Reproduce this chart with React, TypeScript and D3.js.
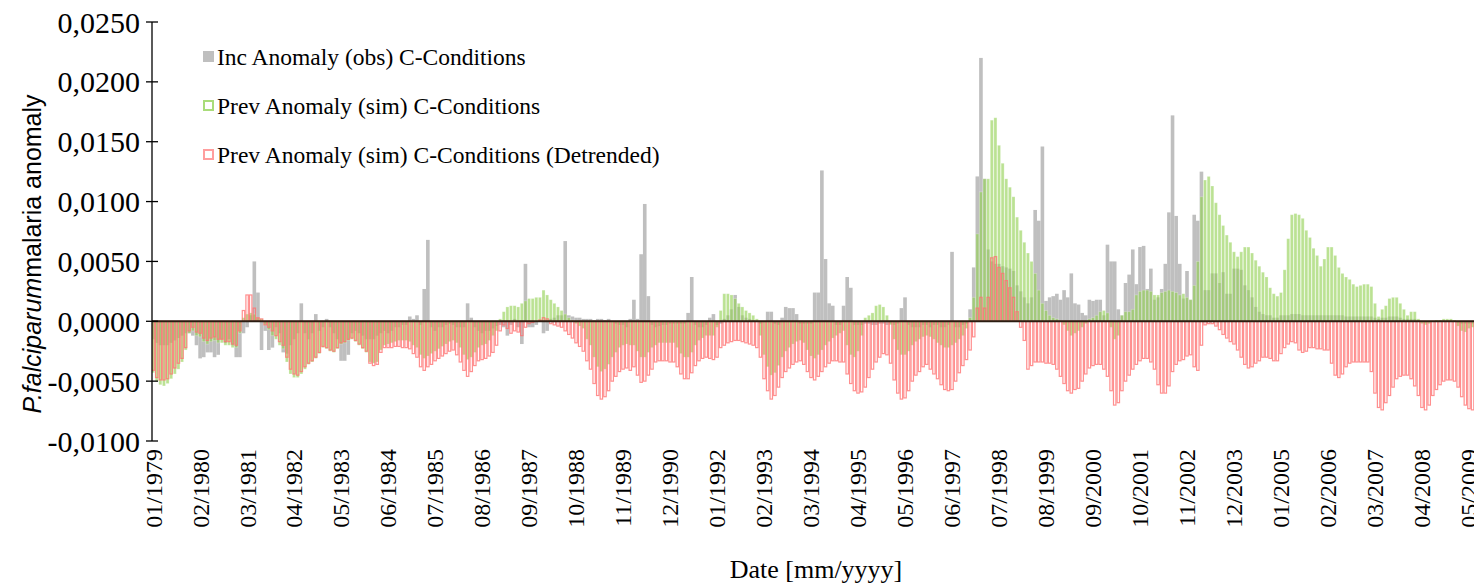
import React from 'react';
import * as d3 from 'd3';

// Monthly anomalies from 01/1979, in units of 0.0001 (one row per year).
const incObs = [
  -15, -18, -20, -20, -20, -18, -16, -14, -12, -10, -10, -12,
  -20, -31, -30, -26, -26, -30, -28, -15, -18, -15, -20, -30,
  -30, -10, -5, 5, 50, 24, -24, -8, -24, -22, -5, -10,
  -26, -27, -20, -15, -10, 15, -10, -15, -10, 6, -8, -5,
  2, -5, -10, -15, -33, -33, -28, -10, -8, -10, -12, -15,
  -15, -15, -12, -10, -8, -10, -8, -5, -5, -3, -3, 4,
  2, 5, -3, 27, 68, -5, -8, -5, -5, -3, -2, -3,
  -5, -5, -5, 15, 3, -5, -8, -10, -8, -8, -6, -4,
  -3, -5, -12, -3, 2, -5, -19, 48, -5, -5, -3, 0,
  -10, -8, 2, 3, 5, 5, 67, 5, 4, 3, 3, 2,
  2, 2, 1, 2, 2, 1, 2, 0, -2, -3, -3, -5,
  2, 18, 2, 56, 98, 21, -3, -5, -4, -3, -3, -2,
  -2, -2, -2, -2, 7, 37, -3, -5, -5, -3, 3, 6,
  -3, -2, 2, 5, 10, 22, 12, 5, 3, 2, 1, 0,
  -2, 0, 8, 8, -2, -3, 3, 12, 11, 11, 6, -2,
  -2, -2, -2, 24, 24, 126, 52, 15, 13, -3, -3, 13,
  37, 28, -3, -3, -3, -2, -2, -3, -3, -2, -2, -3,
  -2, -3, -2, 11, 20, -3, -5, -5, -5, -3, -3, -5,
  -3, -3, -5, -5, -3, 58, -5, -5, -3, -2, 10, 45,
  121, 220, 119, 60, 50, 48, 48, 46, 45, 44, 42, 30,
  25, 20, 15, 20, 93, 84, 146, 17, 20, 21, 23, 18,
  26, 20, 40, 15, 14, 7, 5, 18, 17, 18, 18, 5,
  64, 50, 50, 10, 5, 32, 39, 60, 31, 62, 63, 27,
  44, 18, 20, 27, 48, 91, 172, 88, 48, 19, 42, 18,
  89, 84, 125, 26, 26, 40, 40, 32, 41, 23, 23, 44,
  44, 43, 30, 26, 20, 12, 8, 6, 5, 5, 3, 3,
  5, 5, 5, 6, 6, 6, 5, 5, 5, 5, 5, 5,
  5, 5, 5, 5, 5, 5, 4, 4, 4, 4, 4, 4,
  4, 4, 3, 2, 3, 3, 4, 4, 4, 3, 2, 2,
  2, 2, 1, 0, -1, 0, 0, 0, 0, 0, 0, 0,
  0, -1, -2, -2, -2, -2,
];

const prevSim = [
  -43, -50, -53, -54, -52, -48, -44, -40, -34, -24, -10, -8,
  -12, -13, -17, -19, -17, -16, -18, -18, -20, -20, -22, -22,
  -10, 3, 6, 7, 6, 3, 2, -3, -7, -12, -15, -20,
  -23, -34, -44, -47, -47, -44, -40, -36, -34, -31, -27, -22,
  -23, -25, -26, -23, -19, -18, -16, -15, -17, -20, -23, -26,
  -34, -35, -34, -24, -20, -19, -18, -17, -16, -16, -16, -17,
  -20, -22, -28, -31, -29, -27, -25, -23, -21, -19, -17, -16,
  -18, -22, -28, -32, -30, -26, -22, -20, -19, -16, -12, -8,
  2, 8, 12, 13, 13, 12, 15, 17, 19, 19, 20, 20,
  26, 22, 18, 15, 12, 9, 6, 3, 1, -2, -4, -6,
  -15, -20, -30, -38, -42, -40, -36, -30, -26, -22, -20, -19,
  -20, -20, -25, -30, -30, -26, -22, -20, -18, -18, -18, -18,
  -18, -22, -27, -30, -30, -26, -20, -16, -14, -12, -12, -12,
  -5, 9, 23, 23, 22, 19, 15, 12, 9, 7, 5, 2,
  -12, -28, -38, -45, -43, -37, -30, -25, -22, -19, -17, -16,
  -18, -24, -29, -31, -28, -24, -20, -17, -14, -12, -10, -8,
  -20, -28, -30, -25, -12, 3, 5, 7, 13, 14, 12, 5,
  -3, -15, -24, -28, -28, -25, -20, -17, -15, -13, -12, -13,
  -15, -18, -20, -22, -22, -20, -18, -15, -12, -6, 3, 20,
  73, 108, 119, 119, 168, 170, 147, 132, 119, 112, 104, 87,
  76, 66, 57, 50, 40, 26, 15, 9, 5, 3, 2, 0,
  -3, -8, -12, -10, -8, -5, -2, 2, 3, 5, 8, 9,
  7, -5, -15, -12, 5, 8, 8, 10, 22, 25, 26, 26,
  25, 22, 22, 24, 25, 26, 25, 24, 22, 23, 20, 18,
  30, 50, 104, 118, 121, 113, 99, 89, 80, 72, 66, 58,
  54, 58, 62, 62, 57, 51, 46, 41, 37, 28, 23, 21,
  24, 43, 69, 89, 90, 89, 86, 76, 70, 61, 55, 46,
  52, 62, 62, 55, 45, 40, 37, 35, 31, 29, 30, 31,
  31, 29, 15, 4, 10, 13, 19, 20, 20, 15, 10, 5,
  8, 8, 2, -2, -3, -2, 0, 1, 1, 2, 2, 2,
  1, -4, -8, -9, -6, -5,
];

const prevDetrended = [
  -41, -47, -49, -49, -48, -44, -39, -35, -31, -22, -8, -5,
  -9, -10, -14, -16, -14, -13, -15, -15, -17, -17, -19, -20,
  -8, 9, 22, 22, 11, 3, 2, -3, -5, -8, -12, -17,
  -20, -30, -40, -44, -45, -42, -38, -35, -33, -30, -26, -21,
  -22, -24, -25, -22, -18, -17, -15, -14, -16, -19, -22, -25,
  -35, -37, -36, -26, -22, -22, -22, -21, -21, -22, -22, -23,
  -27, -30, -38, -41, -38, -36, -33, -31, -29, -27, -25, -24,
  -28, -34, -41, -46, -42, -37, -33, -32, -31, -29, -26, -20,
  -8, -3, -6, -10, -8, -9, -12, -5, -2, -1, 0, 1,
  3, 2, -2, -3, -4, -5, -8, -11, -14, -18, -21, -25,
  -33, -40, -52, -62, -65, -63, -58, -50, -46, -42, -40, -39,
  -41, -38, -45, -51, -50, -45, -40, -34, -33, -33, -33, -34,
  -34, -38, -44, -48, -48, -43, -37, -33, -31, -30, -31, -32,
  -30, -22, -20, -18, -17, -16, -16, -17, -18, -19, -20, -22,
  -30, -48, -58, -65, -62, -55, -47, -42, -39, -36, -34, -33,
  -36, -42, -47, -49, -46, -42, -38, -35, -33, -33, -34, -34,
  -44, -52, -58, -60, -59, -55, -47, -40, -34, -30, -27, -28,
  -35, -49, -60, -65, -64, -58, -50, -45, -42, -38, -36, -40,
  -44, -48, -53, -57, -58, -57, -50, -43, -37, -32, -24, -13,
  11, 20, 11, 20, 53, 54, 45, 40, 34, 28, 20, 8,
  -5, -16, -40, -37, -34, -34, -34, -35, -35, -36, -40, -46,
  -52, -58, -60, -57, -56, -50, -44, -39, -37, -36, -36, -40,
  -46, -58, -70, -68, -58, -50, -45, -40, -36, -33, -31, -31,
  -34, -40, -53, -60, -60, -54, -42, -36, -33, -32, -29, -28,
  -38, -41, -20, -3, -2, -2, -4, -7, -11, -14, -17, -19,
  -24, -30, -36, -39, -38, -35, -33, -30, -30, -31, -33, -33,
  -27, -22, -19, -17, -18, -24, -26, -25, -22, -22, -23, -23,
  -24, -24, -35, -45, -47, -44, -38, -35, -34, -34, -34, -34,
  -34, -42, -60, -72, -74, -68, -62, -55, -48, -46, -45, -45,
  -48, -54, -62, -72, -74, -70, -62, -57, -53, -50, -49, -49,
  -50, -55, -63, -70, -73, -74,
];

const UNIT = 0.0001;

// Category labels, one every 13 months
const xTickLabels = [
  '01/1979', '02/1980', '03/1981', '04/1982', '05/1983', '06/1984', '07/1985',
  '08/1986', '09/1987', '10/1988', '11/1989', '12/1990', '01/1992', '02/1993',
  '03/1994', '04/1995', '05/1996', '06/1997', '07/1998', '08/1999', '09/2000',
  '10/2001', '11/2002', '12/2003', '01/2005', '02/2006', '03/2007', '04/2008',
  '05/2009',
];
const LABEL_STEP = 13;

const yTicks = [-0.01, -0.005, 0, 0.005, 0.01, 0.015, 0.02, 0.025];

const legendItems = [
  'Inc Anomaly (obs) C-Conditions',
  'Prev Anomaly (sim) C-Conditions',
  'Prev Anomaly (sim) C-Conditions (Detrended)',
];

const SERIF = "'Liberation Serif', serif";
const SANS = "'Liberation Sans', sans-serif";

const fmtY = (v: number) => {
  const s = Math.abs(v).toFixed(4).replace('.', ',');
  return v < 0 ? '-' + s : s;
};

export default function App() {
  const n = incObs.length;
  const plotLeft = 152;
  const plotTop = 22;
  const plotBottom = 441;
  const step = 3.615;

  const x = d3.scaleLinear().domain([0, n]).range([151.3, 151.3 + step * n]);
  const y = d3.scaleLinear().domain([-0.01, 0.025]).range([plotBottom, plotTop]);
  const y0 = y(0);

  const barRect = (v: number, i: number) => {
    const val = v * UNIT;
    const top = Math.min(y(val), y0);
    const h = Math.abs(y(val) - y0);
    return { x: x(i), y: top, w: x(i + 1) - x(i), h };
  };

  return (
    <svg
      width={1474}
      height={586}
      style={{ position: 'absolute', left: 0, top: 0, background: '#fff' }}
    >
      <defs>
        <clipPath id="plotClip">
          <rect x={plotLeft} y={0} width={1474 - plotLeft} height={plotBottom + 2} />
        </clipPath>
      </defs>

      <g clipPath="url(#plotClip)">
        {/* observed incidence anomaly */}
        <g>
          {incObs.map((v, i) => {
            const r = barRect(v, i);
            return <rect key={i} x={r.x} y={r.y} width={r.w} height={r.h} fill="#bfbfbf" />;
          })}
        </g>
        {/* simulated prevalence anomaly */}
        <g>
          {prevSim.map((v, i) => {
            const r = barRect(v, i);
            return (
              <rect
                key={i}
                x={r.x + 0.3}
                y={r.y}
                width={r.w - 0.6}
                height={r.h}
                fill="#92d050"
                fillOpacity={0.62}
                stroke="#ffffff"
                strokeOpacity={0.3}
                strokeWidth={0.8}
              />
            );
          })}
        </g>
        {/* detrended simulated prevalence anomaly (outlined) */}
        <g>
          {prevDetrended.map((v, i) => {
            const r = barRect(v, i);
            return (
              <rect
                key={i}
                x={r.x + 0.6}
                y={r.y}
                width={Math.max(0, r.w - 1.2)}
                height={r.h}
                fill="none"
                stroke="#ff7070"
                strokeOpacity={0.78}
                strokeWidth={1.2}
              />
            );
          })}
        </g>
        {/* zero line */}
        <line x1={plotLeft} x2={1474} y1={y0} y2={y0} stroke="#2b1d12" strokeWidth={2} />
      </g>

      {/* value axis */}
      <line x1={plotLeft} x2={plotLeft} y1={plotTop} y2={plotBottom} stroke="#000" strokeWidth={1.3} />
      {yTicks.map((t) => (
        <g key={t}>
          <line x1={plotLeft - 6} x2={plotLeft + 6} y1={y(t)} y2={y(t)} stroke="#000" strokeWidth={1.3} />
          <text
            x={140}
            y={y(t)}
            dy="0.35em"
            textAnchor="end"
            style={{ fontFamily: SERIF, fontSize: 30 }}
            fill="#000"
          >
            {fmtY(t)}
          </text>
        </g>
      ))}

      {/* category labels */}
      {xTickLabels.map((lab, k) => {
        const cx = x(k * LABEL_STEP + 0.5);
        return (
          <text
            key={lab}
            transform={`translate(${cx},${449}) rotate(-90)`}
            dy="0.35em"
            textAnchor="end"
            style={{ fontFamily: SERIF, fontSize: 24 }}
            fill="#000"
          >
            {lab}
          </text>
        );
      })}

      {/* axis titles */}
      <text x={816} y={578} textAnchor="middle" style={{ fontFamily: SERIF, fontSize: 26 }} fill="#000">
        Date [mm/yyyy]
      </text>
      <text
        transform={`translate(41,254) rotate(-90)`}
        textAnchor="middle"
        style={{ fontFamily: SANS, fontSize: 25 }}
        fill="#000"
      >
        <tspan fontStyle="italic">P.falciparum</tspan>
        <tspan>malaria anomaly</tspan>
      </text>

      {/* legend */}
      <g style={{ fontFamily: SERIF, fontSize: 23.5 }} fill="#000">
        <rect x={203} y={51} width={11} height={11} fill="#bfbfbf" />
        <text x={217} y={64.5}>{legendItems[0]}</text>
        <rect x={204} y={101} width={9} height={9} fill="none" stroke="#a9dc7a" strokeWidth={2} />
        <text x={217} y={113.5}>{legendItems[1]}</text>
        <rect x={204} y={150} width={9} height={9} fill="none" stroke="#ff9e9e" strokeWidth={2} />
        <text x={217} y={162.5}>{legendItems[2]}</text>
      </g>
    </svg>
  );
}
